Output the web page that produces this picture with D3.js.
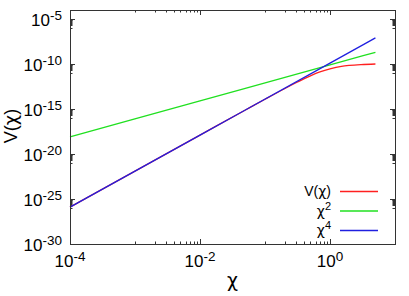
<!DOCTYPE html>
<html>
<head>
<meta charset="utf-8">
<script src="https://cdn.jsdelivr.net/npm/d3@7"></script>
<style>
body { margin: 0; background: #fff; }
text { font-family: "Liberation Sans", Arial, sans-serif; fill: #000; }
.chi { font-family: "DejaVu Sans", sans-serif; }
</style>
</head>
<body>
<svg id="chart"></svg>
<script>
var width = 409;
var height = 296;

// values
var chiV = [1e-4, 1e-3, 1e-2, 0.05, 0.1, 0.2, 0.3, 0.5, 0.7, 1, 1.5, 2, 3, 5];
var valV = [1.26e-26, 1.26e-22, 1.26e-18, 7.8e-16, 1.22e-14, 1.8e-13, 8.2e-13, 4.8e-12, 1.3e-11, 2.9e-11, 5.5e-11, 7.0e-11, 8.6e-11, 1.0e-10];
var chiLine = [1e-4, 1e-2, 1, 5];
var valSq = [7.9e-19, 7.9e-15, 7.9e-11, 2.0e-9];
var valQuart = [1.26e-26, 1.26e-18, 1.26e-10, 7.9e-8];

var xTicks = [1e-4, 1e-2, 1];
var xTickExp = ["-4", "-2", "0"];
var yTicks = [1e-30, 1e-25, 1e-20, 1e-15, 1e-10, 1e-5];
var yTickExp = ["-30", "-25", "-20", "-15", "-10", "-5"];

var series = [
  {pre: "V(", post: ")", sup: "", x: chiV, y: valV, color: "#ff2020"},
  {pre: "", post: "", sup: "2", x: chiLine, y: valSq, color: "#20e020"},
  {pre: "", post: "", sup: "4", x: chiLine, y: valQuart, color: "#2020e0"}
];

var margin = {left: 70, right: 14, top: 10, bottom: 52};

var x = d3.scaleLog().domain([1e-4, 10]).range([margin.left, width - margin.right]);
var y = d3.scaleLog().domain([1e-30, 1e-4]).range([height - margin.bottom, margin.top]);

var svg = d3.select("#chart").attr("width", width).attr("height", height);

// minor ticks: k * 10^(M-1) below each major M
var xMinor = [];
[-2, 0].forEach(function(m){
  for (var k = 1; k <= 9; k++) xMinor.push(k * Math.pow(10, m - 1));
});
var yMinor = [];
[-25, -20, -15, -10, -5].forEach(function(m){
  for (var k = 1; k <= 9; k++) yMinor.push(k * Math.pow(10, m - 1));
});

var x0 = x.range()[0], x1 = x.range()[1];
var y0 = y.range()[0], y1 = y.range()[1];

var ticks = svg.append("g").attr("stroke", "#333").attr("stroke-width", 1);
function vTick(v, len){
  var px = Math.round(x(v)) + 0.5;
  ticks.append("line").attr("x1", px).attr("x2", px).attr("y1", y0).attr("y2", y0 - len);
  ticks.append("line").attr("x1", px).attr("x2", px).attr("y1", y1).attr("y2", y1 + len);
}
function hTick(v, len){
  var py = Math.round(y(v)) + 0.5;
  ticks.append("line").attr("y1", py).attr("y2", py).attr("x1", x0).attr("x2", x0 + len);
  ticks.append("line").attr("y1", py).attr("y2", py).attr("x1", x1).attr("x2", x1 - len);
}
xTicks.forEach(function(v){ vTick(v, 5); });
xMinor.forEach(function(v){ vTick(v, 2.5); });
yTicks.forEach(function(v){ hTick(v, 5); });
yMinor.forEach(function(v){ hTick(v, 2.5); });

// curves
var line = d3.line().x(d => x(d[0])).y(d => y(d[1])).curve(d3.curveMonotoneX);
series.forEach(function(s){
  svg.append("path")
    .datum(s.x.map((v, i) => [v, s.y[i]]))
    .attr("fill", "none")
    .attr("stroke", s.color)
    .attr("stroke-width", 1.3)
    .attr("d", line);
});

// frame
svg.append("rect")
  .attr("x", x0 + 0.5).attr("y", y1 + 0.5)
  .attr("width", x1 - x0).attr("height", y0 - y1)
  .attr("fill", "none").attr("stroke", "#333").attr("stroke-width", 1);

// tick labels
xTicks.forEach(function(v, i){
  var t = svg.append("text").attr("x", x(v)).attr("y", y0 + 23)
    .attr("text-anchor", "middle").attr("font-size", 17);
  t.append("tspan").text("10");
  t.append("tspan").attr("dy", -6).attr("font-size", 13.5).text(xTickExp[i]);
});
yTicks.forEach(function(v, i){
  var t = svg.append("text").attr("x", 62).attr("y", y(v) + 7)
    .attr("text-anchor", "end").attr("font-size", 17);
  t.append("tspan").text("10");
  t.append("tspan").attr("dy", -6).attr("font-size", 13.5).text(yTickExp[i]);
});

// axis titles
svg.append("text").attr("class", "chi").attr("x", (x0 + x1) / 2).attr("y", 287)
  .attr("text-anchor", "middle").attr("font-size", 19).text("χ");
var yl = svg.append("text")
  .attr("transform", "translate(17," + ((y0 + y1) / 2 - 1) + ") rotate(-90)")
  .attr("text-anchor", "middle").attr("font-size", 18);
yl.append("tspan").text("V(");
yl.append("tspan").attr("class", "chi").text("χ");
yl.append("tspan").text(")");

// legend
var legend = svg.append("g");
series.forEach(function(s, i){
  var ly = 191 + i * 19.5;
  var t = legend.append("text").attr("x", 331).attr("y", ly + 5)
    .attr("text-anchor", "end").attr("font-size", 14);
  if (s.pre) t.append("tspan").text(s.pre);
  t.append("tspan").attr("class", "chi").text("χ");
  if (s.post) t.append("tspan").text(s.post);
  if (s.sup) t.append("tspan").attr("dy", -6).attr("font-size", 11).text(s.sup);
  legend.append("line").attr("x1", 340).attr("x2", 378)
    .attr("y1", ly + 0.5).attr("y2", ly + 0.5)
    .attr("stroke", s.color).attr("stroke-width", 1.3);
});
</script>
</body>
</html>
